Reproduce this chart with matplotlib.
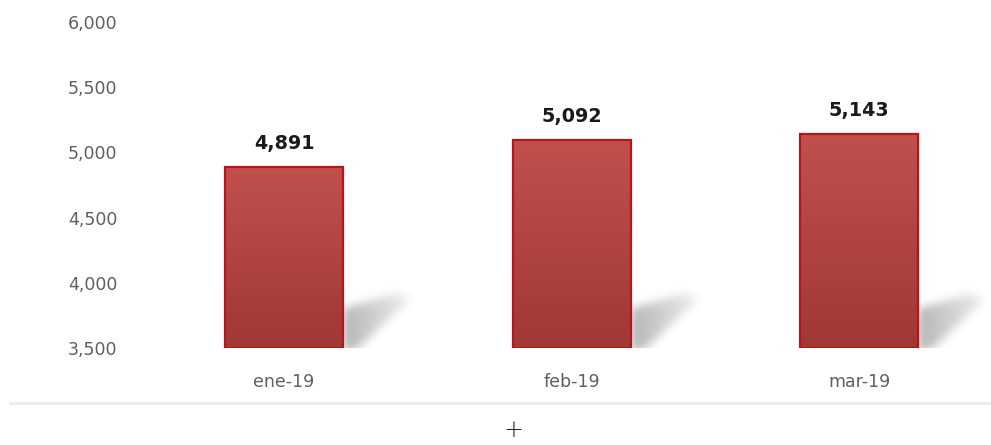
import numpy as np
import matplotlib.pyplot as plt
from matplotlib.path import Path
from matplotlib.colors import LinearSegmentedColormap

plt.rcParams['font.family'] = ['DejaVu Sans']

# monthly totals
months = ['ene-19', 'feb-19', 'mar-19']
totals = [4891, 5092, 5143]
y_ticks = [3500, 4000, 4500, 5000, 5500, 6000]

bar_w = 0.41
base = 3500


def gauss_blur(img, sigma):
    r = int(3 * sigma)
    k = np.exp(-0.5 * (np.arange(-r, r + 1) / sigma) ** 2)
    k /= k.sum()
    img = np.apply_along_axis(lambda m: np.convolve(m, k, mode='same'), 0, img)
    img = np.apply_along_axis(lambda m: np.convolve(m, k, mode='same'), 1, img)
    return img


fig = plt.figure(figsize=(9.91, 4.45), dpi=100)
ax = fig.add_axes([130 / 991, 0.218, 861 / 991, 0.7326])

red_grad = LinearSegmentedColormap.from_list('bar', ['#a03836', '#c1504d'])
grad = np.linspace(0, 1, 256).reshape(-1, 1)

x = np.arange(len(months))
for i, v in zip(x, totals):
    left, right = i - bar_w / 2, i + bar_w / 2

    # blurred floor shadow cast to the right of the bar
    shape = Path([(right, base - 30), (right, base + 300),
                  (right + 0.18, base + 410), (right + 0.24, base + 385),
                  (right + 0.05, base - 10)])
    sx0, sx1, sy0, sy1 = right - 0.03, right + 0.36, base - 120, base + 540
    gx, gy = np.meshgrid(np.linspace(sx0, sx1, 112), np.linspace(sy0, sy1, 86))
    mask = shape.contains_points(np.column_stack([gx.ravel(), gy.ravel()]))
    mask = gauss_blur(mask.reshape(gx.shape).astype(float), 4.5)
    fade = np.clip(1.05 - 0.85 * (gx - right) / 0.25, 0, 1)
    rgba = np.zeros(gx.shape + (4,))
    rgba[..., :3] = 0.45
    rgba[..., 3] = mask * fade * 0.5
    ax.imshow(rgba, extent=[sx0, sx1, sy0, sy1], origin='lower',
              aspect='auto', zorder=1, interpolation='bilinear')

    # gradient-filled bar
    im = ax.imshow(grad, cmap=red_grad, aspect='auto', origin='lower',
                   extent=[left, right, base, v], zorder=2)
    rect = plt.Rectangle((left, base), bar_w, v - base, facecolor='none',
                         edgecolor='#b8141c', linewidth=1.6, zorder=3)
    ax.add_patch(rect)
    im.set_clip_path(rect)

    ax.annotate(f'{v:,}', (i, v), xytext=(0, 10), textcoords='offset points',
                ha='center', va='bottom', fontsize=13.8, fontweight='bold',
                color='#1a1a1a')

ax.set_xlim(-0.536, 2.459)
ax.set_ylim(3500, 6000)
ax.set_xticks(x)
ax.set_xticklabels(months)
ax.set_yticks(y_ticks)
ax.set_yticklabels([f'{t:,}' for t in y_ticks])
ax.tick_params(axis='y', length=0, pad=9, labelsize=12.5, labelcolor='#5f5f5f')
ax.tick_params(axis='x', length=0, pad=18, labelsize=12.5, labelcolor='#5f5f5f')
for s in ax.spines.values():
    s.set_visible(False)

# thin separator and marker under the plot area
fig.add_artist(plt.Line2D([10 / 991, 1], [0.094, 0.094], color='#ececec', linewidth=2))
fig.text(513 / 991, 0.034, '+', ha='center', va='center', fontsize=17,
         color='#222222', fontweight='light')

fig.savefig('out.png', dpi=100)
